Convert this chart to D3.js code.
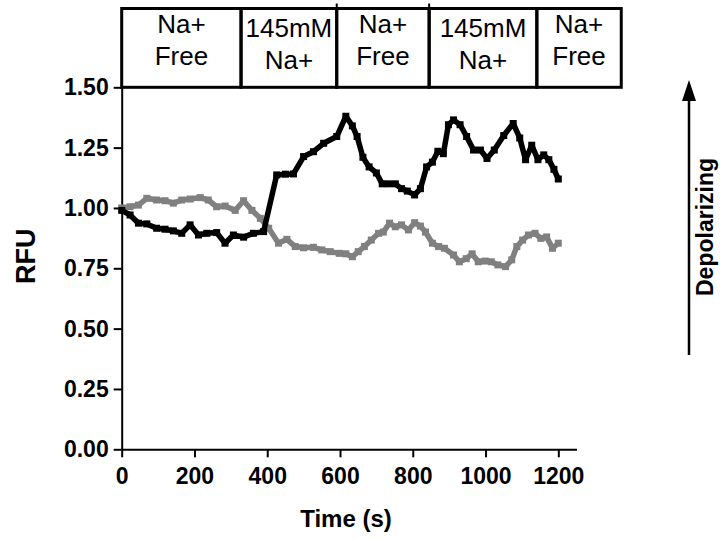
<!DOCTYPE html>
<html>
<head>
<meta charset="utf-8">
<script src="https://cdn.jsdelivr.net/npm/d3@7"></script>
<style>
  body { margin: 0; background: #fff; }
  svg { display: block; font-family: Arial, "Liberation Sans", sans-serif; }
</style>
</head>
<body>
<div id="chart"></div>
<script>
// black trace (time in s)
const blackTimes = [
  0, 23, 46, 69, 96, 119, 142, 165, 188, 211, 234, 261, 284, 307, 335, 362, 390,
  426, 450, 472, 500, 527, 555, 591, 616, 634, 647, 663, 680, 700, 716, 733, 752,
  769, 785, 805, 821, 838, 854, 869, 884, 898, 912, 930, 948, 967, 986, 1004, 1024,
  1050, 1076, 1094, 1110, 1127, 1144, 1160, 1174, 1188, 1200
];
const blackValues = [
  0.99, 0.971, 0.937, 0.934, 0.916, 0.912, 0.905, 0.895, 0.93, 0.888, 0.895, 0.898, 0.854, 0.888, 0.879, 0.895, 0.902,
  1.137, 1.14, 1.141, 1.213, 1.233, 1.268, 1.296, 1.38, 1.34, 1.296, 1.21, 1.17, 1.145, 1.10, 1.10, 1.10,
  1.08, 1.07, 1.054, 1.08, 1.17, 1.19, 1.235, 1.225, 1.345, 1.365, 1.345, 1.296, 1.24, 1.24, 1.205, 1.24,
  1.30, 1.35, 1.29, 1.20, 1.26, 1.20, 1.22, 1.20, 1.16, 1.12
];

// grey trace
const greyTimes = [
  0, 23, 46, 69, 96, 119, 142, 165, 188, 216, 238, 261, 284, 312, 335, 358, 381,
  404, 431, 454, 477, 500, 527, 550, 573, 598, 616, 634, 650, 667, 686, 706, 719,
  736, 752, 769, 788, 805, 821, 835, 854, 871, 887, 912, 928, 947, 963, 980, 999,
  1016, 1034, 1055, 1072, 1086, 1102, 1118, 1136, 1152, 1168, 1184, 1200
];
const greyValues = [
  1.00, 1.005, 1.012, 1.04, 1.033, 1.03, 1.02, 1.033, 1.037, 1.043, 1.033, 1.005, 1.008, 0.99, 1.03, 0.99, 0.957,
  0.916, 0.854, 0.87, 0.84, 0.835, 0.837, 0.826, 0.819, 0.812, 0.81, 0.798, 0.819, 0.84, 0.867, 0.895, 0.90,
  0.937, 0.922, 0.93, 0.909, 0.939, 0.925, 0.90, 0.854, 0.84, 0.833, 0.805, 0.777, 0.79, 0.81, 0.777, 0.78,
  0.777, 0.764, 0.757, 0.785, 0.84, 0.867, 0.888, 0.895, 0.874, 0.88, 0.833, 0.854
];

// solution bar along the top (boundaries in seconds)
const phaseEdges = [0, 328, 591, 845, 1141, 1373];
const phaseLabels = [["Na+", "Free"], ["145mM", "Na+"], ["Na+", "Free"], ["145mM", "Na+"], ["Na+", "Free"]];

const xTicks = [0, 200, 400, 600, 800, 1000, 1200];
const yTicks = [0, 0.25, 0.5, 0.75, 1.0, 1.25, 1.5];

const width = 723, height = 539;

const svg = d3.select('#chart').append('svg')
  .attr('width', width)
  .attr('height', height);

const x = d3.scaleLinear().domain([0, 1250]).range([121.7, 576.5]);
const y = d3.scaleLinear().domain([0, 1.5]).range([449.3, 87.3]);

// axes
const xAxis = svg.append('g')
  .attr('transform', `translate(0,${y(0)})`)
  .call(d3.axisBottom(x).tickValues(xTicks).tickSize(8).tickSizeOuter(0).tickPadding(6)
    .tickFormat(d3.format('d')));

const yAxis = svg.append('g')
  .attr('transform', `translate(${x(0)},0)`)
  .call(d3.axisLeft(y).tickValues(yTicks).tickSize(8).tickSizeOuter(0).tickPadding(5)
    .tickFormat(d3.format('.2f')));

[xAxis, yAxis].forEach(g => {
  g.selectAll('path, line').attr('stroke', '#000').attr('stroke-width', 2);
  g.selectAll('text')
    .attr('fill', '#000')
    .style('font-size', '23px')
    .style('font-weight', 'bold');
});
xAxis.selectAll('text').attr('dy', '0.92em');

// series
const series = [
  { t: greyTimes, v: greyValues, color: '#808080' },
  { t: blackTimes, v: blackValues, color: '#000000' }
];

series.forEach(s => {
  const line = d3.line()
    .x((d, i) => x(s.t[i]))
    .y(d => y(d));

  svg.append('path')
    .datum(s.v)
    .attr('fill', 'none')
    .attr('stroke', s.color)
    .attr('stroke-width', 5.5)
    .attr('stroke-linejoin', 'round')
    .attr('d', line);

  svg.append('g').selectAll('rect')
    .data(s.v)
    .enter()
    .append('rect')
    .attr('x', (d, i) => x(s.t[i]) - 3.5)
    .attr('y', d => y(d) - 3.5)
    .attr('width', 7)
    .attr('height', 7)
    .attr('fill', s.color);
});

// top phase boxes
const boxTop = 8.5, boxBottom = y(1.5);
const phases = svg.append('g');
phases.selectAll('rect')
  .data(phaseLabels)
  .enter()
  .append('rect')
  .attr('x', (d, i) => x(phaseEdges[i]))
  .attr('y', boxTop)
  .attr('width', (d, i) => x(phaseEdges[i + 1]) - x(phaseEdges[i]))
  .attr('height', boxBottom - boxTop)
  .attr('fill', 'none')
  .attr('stroke', '#000')
  .attr('stroke-width', 3);

phases.selectAll('text')
  .data(phaseLabels)
  .enter()
  .append('text')
  .attr('text-anchor', 'middle')
  .style('font-size', '26px')
  .attr('fill', '#000')
  .each(function (d, i) {
    const cx = (x(phaseEdges[i]) + x(phaseEdges[i + 1])) / 2;
    const base = d[0] === '145mM' ? 37 : 33;
    d3.select(this).selectAll('tspan')
      .data(d)
      .enter()
      .append('tspan')
      .attr('x', cx)
      .attr('y', (t, j) => base + j * 32)
      .text(t => t);
  });

// little marks above the inner dividers
phases.selectAll('line.mark')
  .data([phaseEdges[2], phaseEdges[3]])
  .enter()
  .append('line')
  .attr('x1', d => x(d)).attr('x2', d => x(d))
  .attr('y1', 3.5).attr('y2', boxTop)
  .attr('stroke', '#000').attr('stroke-width', 2);

// axis titles
svg.append('text')
  .attr('x', x(600) + 6)
  .attr('y', 527)
  .attr('text-anchor', 'middle')
  .style('font-size', '24px')
  .style('font-weight', 'bold')
  .text('Time (s)');

svg.append('text')
  .attr('transform', `translate(35,${y(0.8)}) rotate(-90)`)
  .attr('text-anchor', 'middle')
  .style('font-size', '27px')
  .style('font-weight', 'bold')
  .text('RFU');

// depolarizing arrow
const ax = 689;
svg.append('line')
  .attr('x1', ax).attr('x2', ax)
  .attr('y1', 355).attr('y2', 98)
  .attr('stroke', '#000').attr('stroke-width', 2.5);
svg.append('path')
  .attr('d', `M${ax},80 L${ax - 7},101 L${ax + 7},101 Z`)
  .attr('fill', '#000');
svg.append('text')
  .attr('transform', `translate(713,227) rotate(-90)`)
  .attr('text-anchor', 'middle')
  .style('font-size', '23px')
  .style('font-weight', 'bold')
  .text('Depolarizing');
</script>
</body>
</html>
